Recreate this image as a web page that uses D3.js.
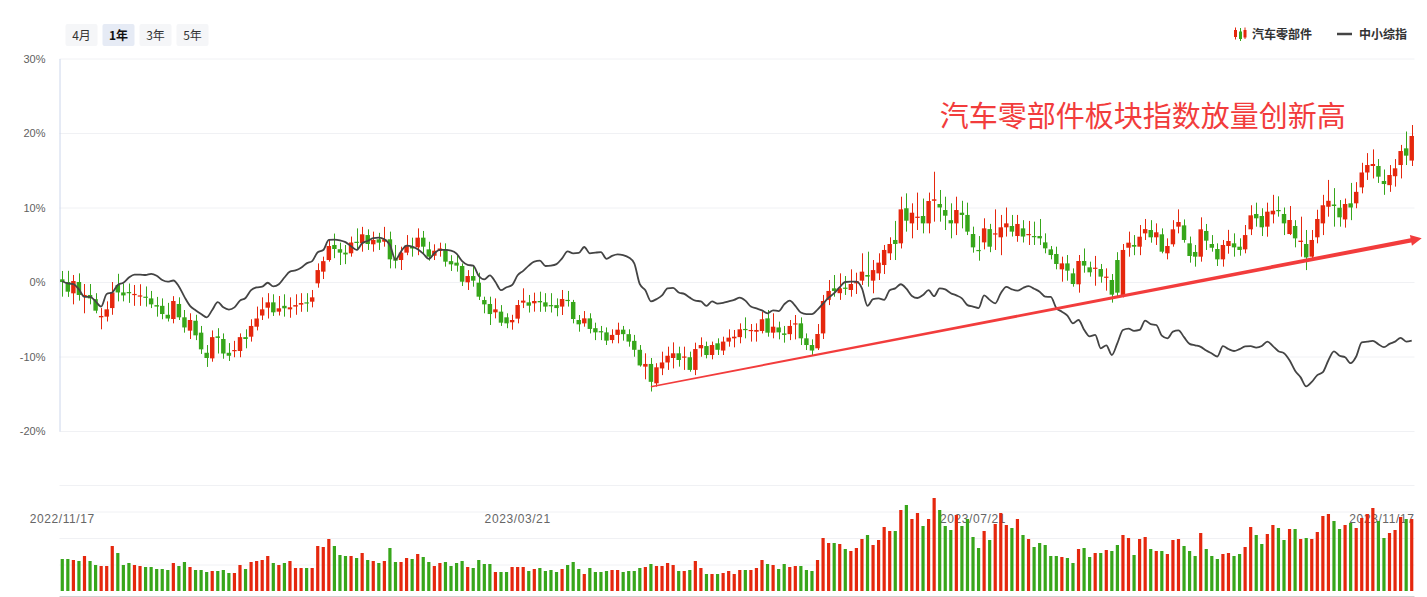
<!DOCTYPE html>
<html>
<head>
<meta charset="utf-8">
<script src="https://cdn.jsdelivr.net/npm/d3@7.9.0/dist/d3.min.js"></script>
<style>
  body { margin: 0; background: #fff; }
  svg { display: block; font-family: "Liberation Sans", Arial, "Noto Sans CJK SC", sans-serif; }
</style>
</head>
<body>
<svg id="chart" width="1427" height="597"></svg>
<script>
// range buttons + legend
const rangeButtons = ['4月', '1年', '3年', '5年'];
const activeRange = '1年';
const seriesNames = ['汽车零部件', '中小综指'];

// axis ticks (percent) and date labels (by trading-day index)
const yTicks = [30, 20, 10, 0, -10, -20];
const volTicks = [26.5, 53, 79.5, 106];
const dateTickIdx = [0, 82, 164, 243];
const dateTickLabels = ['2022/11/17', '2023/03/21', '2023/07/21', '2023/11/17'];

// 汽车零部件 daily candles, % change vs. first day: [open, close, high, low]
const kline = [
  [0.36,0.00,1.48,-1.97],[0.00,-1.30,1.50,-2.00],[-1.52,0.13,0.94,-3.00],[0.00,-1.74,1.16,-2.50],[-1.79,-1.74,-0.27,-4.20],
  [-1.74,-2.20,-0.27,-3.00],[-2.30,-3.85,-1.50,-4.20],[-4.74,-4.56,-3.50,-6.35],[-4.65,-3.67,-2.60,-5.30],[-3.50,-1.40,0.00,-4.40],
  [-0.40,-1.40,1.10,-2.60],[-1.40,-1.80,-0.20,-2.60],[-1.35,-1.50,-0.20,-2.80],[-1.70,-1.60,-0.40,-3.20],[-1.90,-1.80,-0.30,-3.20],
  [-1.97,-2.10,-0.60,-3.30],[-2.20,-3.00,-1.20,-3.50],[-3.10,-3.30,-2.00,-4.65],[-3.20,-4.30,-2.20,-5.00],[-4.40,-4.90,-2.80,-5.30],
  [-4.97,-2.55,-1.90,-5.55],[-2.95,-4.74,-2.06,-5.10],[-4.74,-6.10,-3.76,-6.80],[-6.53,-5.10,-4.20,-7.65],[-5.20,-7.16,-4.40,-7.80],
  [-6.80,-9.04,-5.90,-9.66],[-9.50,-10.20,-8.46,-11.40],[-10.25,-7.40,-6.50,-10.70],[-7.30,-7.50,-6.20,-9.60],[-7.65,-9.60,-6.90,-10.30],
  [-9.50,-9.90,-8.20,-10.60],[-9.26,-9.13,-7.90,-10.10],[-9.26,-7.40,-6.90,-10.10],[-7.40,-7.65,-6.35,-8.90],[-7.34,-5.90,-5.00,-8.00],
  [-6.00,-4.90,-3.30,-6.50],[-4.50,-3.67,-2.06,-5.10],[-3.45,-2.73,-1.50,-4.90],[-2.73,-4.07,-1.65,-4.56],[-3.98,-3.53,-1.88,-4.50],
  [-3.20,-3.53,-1.65,-4.65],[-3.67,-3.40,-2.06,-4.80],[-3.30,-3.10,-1.65,-4.40],[-3.04,-2.82,-1.50,-4.00],[-2.73,-2.82,-1.50,-4.00],
  [-2.64,-2.06,-1.07,-3.40],[-0.18,1.60,2.50,-0.76],[1.39,2.80,3.40,0.40],[2.95,4.83,5.70,2.73],[4.97,4.43,6.50,3.20],
  [4.40,3.94,5.28,2.28],[3.94,3.70,4.97,2.40],[3.85,5.30,6.10,3.40],[5.40,5.28,7.20,4.30],[5.20,6.40,7.40,4.07],
  [6.30,5.10,7.07,4.30],[5.06,5.64,6.76,4.07],[5.73,5.28,6.60,4.30],[5.41,5.73,7.40,4.74],[5.73,3.04,6.76,1.83],
  [3.18,2.86,4.97,1.83],[2.95,3.94,4.74,1.61],[3.94,4.88,6.30,3.60],[4.74,4.50,5.95,3.40],[4.65,5.95,7.20,3.60],
  [5.95,4.74,6.85,3.85],[4.38,3.40,5.40,2.86],[3.53,4.20,5.06,2.95],[4.16,4.50,5.28,3.40],[4.38,2.73,5.19,2.06],
  [2.80,2.37,3.60,1.48],[2.60,2.20,3.60,1.39],[2.15,0.04,2.50,-0.54],[-0.04,0.80,1.60,-1.07],[0.80,0.18,2.15,-0.63],
  [-0.09,-1.97,1.25,-2.42],[-2.42,-3.00,-1.97,-4.20],[-2.95,-4.30,-1.97,-5.77],[-4.07,-3.67,-2.20,-4.88],[-3.98,-5.46,-3.10,-5.90],
  [-4.74,-5.55,-4.20,-6.20],[-5.41,-5.10,-4.40,-6.40],[-4.92,-3.09,-2.42,-5.55],[-2.77,-2.50,-0.85,-3.50],[-2.73,-3.18,-1.74,-4.10],
  [-2.86,-2.55,-1.43,-3.98],[-2.55,-2.73,-1.30,-4.00],[-2.73,-3.30,-1.50,-4.00],[-3.10,-3.20,-1.50,-4.10],[-3.10,-3.50,-2.20,-4.60],
  [-3.30,-2.28,-1.07,-4.43],[-2.40,-2.55,-1.20,-3.30],[-2.68,-4.97,-2.40,-5.55],[-5.10,-5.68,-4.43,-6.67],[-5.55,-4.88,-3.90,-6.00],
  [-4.88,-6.30,-4.20,-6.90],[-6.20,-6.76,-5.46,-7.80],[-6.60,-6.76,-5.90,-7.80],[-6.76,-7.87,-6.10,-8.46],[-7.79,-7.10,-6.35,-8.23],
  [-7.10,-6.40,-5.46,-8.23],[-6.40,-7.00,-5.90,-7.87],[-7.00,-8.00,-6.35,-8.68],[-7.90,-9.10,-7.10,-10.03],[-9.10,-11.20,-8.46,-11.36],
  [-11.36,-11.00,-9.57,-13.06],[-11.00,-13.40,-10.20,-14.70],[-13.60,-11.45,-10.90,-14.05],[-11.60,-10.80,-9.35,-12.50],[-10.80,-9.90,-8.68,-11.80],
  [-10.20,-9.57,-8.10,-11.60],[-9.57,-10.47,-8.68,-11.36],[-10.16,-10.00,-8.68,-11.80],[-10.10,-11.80,-9.35,-12.04],[-11.80,-9.00,-8.14,-12.50],
  [-8.90,-8.46,-7.43,-10.03],[-8.60,-9.80,-8.00,-10.25],[-9.80,-8.46,-8.00,-10.38],[-8.23,-9.10,-7.56,-9.80],[-9.20,-8.00,-7.34,-9.80],
  [-8.00,-7.47,-6.35,-8.68],[-7.56,-7.34,-6.44,-8.77],[-7.40,-6.35,-5.55,-8.23],[-6.30,-6.44,-4.75,-7.56],[-6.58,-6.44,-5.64,-8.00],
  [-6.67,-6.44,-5.55,-8.00],[-6.58,-5.00,-4.00,-6.90],[-4.88,-6.80,-3.76,-7.34],[-6.80,-6.00,-4.20,-7.56],[-6.10,-6.76,-5.32,-7.70],
  [-6.90,-7.10,-5.90,-8.14],[-7.00,-5.90,-5.10,-7.80],[-5.68,-5.55,-4.43,-7.70],[-5.55,-7.56,-4.75,-8.46],[-7.56,-8.46,-6.90,-9.13],
  [-8.46,-9.20,-7.70,-9.80],[-8.90,-6.98,-5.64,-9.13],[-6.90,-2.55,-1.74,-7.65],[-2.40,-1.20,0.27,-3.10],[-0.85,-1.20,0.94,-1.97],
  [-1.50,-0.85,1.16,-2.40],[-0.76,-0.85,0.80,-1.74],[-1.07,-0.27,1.70,-1.97],[-0.18,0.13,1.25,-1.61],[0.18,1.39,3.85,-0.40],
  [0.94,0.72,4.07,-0.63],[0.18,1.60,2.95,-1.52],[1.16,2.60,3.85,0.27],[2.28,4.30,4.97,1.07],[3.85,5.10,6.00,2.95],
  [5.64,5.10,8.20,2.95],[5.19,9.75,11.45,4.50],[9.90,8.23,11.90,6.76],[7.87,9.30,10.56,5.86],[8.60,8.77,12.00,6.98],
  [8.86,7.87,11.20,6.53],[7.87,10.87,12.00,6.53],[10.90,11.10,14.80,8.10],[10.47,10.00,12.35,8.10],[9.66,8.90,11.45,6.98],
  [8.30,7.87,10.56,5.86],[7.87,9.66,11.45,6.30],[9.30,9.00,10.90,7.20],[9.00,6.76,10.65,6.30],[6.44,4.65,7.43,3.94],
  [4.30,4.20,6.17,2.86],[5.32,7.20,8.55,4.38],[7.10,4.74,7.80,4.00],[6.44,6.53,9.75,4.30],[6.00,7.34,9.00,3.60],
  [7.34,7.87,10.00,6.10],[7.52,6.76,9.00,6.10],[6.17,7.79,9.00,5.40],[7.20,6.10,8.30,5.30],[6.30,6.44,8.20,4.97],
  [6.17,6.08,8.10,4.97],[6.17,5.86,8.46,4.97],[5.32,4.52,6.53,3.85],[4.38,3.62,4.83,3.04],[3.76,2.42,4.74,1.70],
  [1.70,2.50,3.40,0.04],[2.50,1.52,3.62,0.18],[1.16,-0.27,1.83,-0.63],[-0.31,2.82,3.62,-1.43],[2.82,2.20,4.50,1.25],
  [1.97,1.30,2.73,0.72],[1.79,1.92,3.50,-0.50],[1.74,0.72,2.42,-0.09],[0.58,0.72,1.83,-1.16],[0.27,-1.70,1.07,-2.77],
  [2.95,-1.43,4.00,-2.00],[-1.83,4.30,5.10,-2.06],[4.60,5.28,6.76,3.40],[4.97,4.74,6.30,3.60],[4.74,6.08,7.65,3.60],
  [6.53,7.10,8.46,5.64],[6.98,6.00,8.30,5.28],[6.00,6.67,7.87,4.97],[6.40,4.07,7.20,3.85],[3.85,4.83,5.86,3.04],
  [5.06,7.07,8.30,4.74],[7.43,8.05,9.75,6.53],[7.60,5.64,8.40,5.28],[5.19,3.49,6.10,2.60],[4.03,3.40,4.97,2.06],
  [3.40,7.07,8.68,2.73],[6.85,5.55,7.79,4.30],[5.10,4.60,6.30,4.07],[4.43,3.04,5.19,2.15],[3.04,4.97,5.64,2.06],
  [4.83,5.50,7.00,3.80],[5.19,4.65,6.53,3.40],[4.74,4.30,5.86,3.53],[4.38,6.30,7.65,3.85],[7.07,8.95,10.30,6.30],
  [9.13,8.55,10.65,7.43],[8.86,7.34,9.90,6.17],[7.43,9.44,10.65,6.08],[9.08,9.57,11.70,7.87],[9.66,9.57,11.50,8.77],
  [9.13,7.87,10.00,6.30],[6.44,8.32,10.20,6.30],[7.52,5.86,8.30,4.65],[5.37,5.55,8.77,3.40],[5.10,3.30,6.98,1.60],
  [3.40,5.64,6.98,2.95],[6.00,8.46,9.70,5.19],[7.87,10.30,11.70,6.30],[10.10,10.90,13.70,8.77],[10.40,10.20,12.60,7.43],
  [9.97,8.68,11.00,7.43],[8.40,10.47,11.20,7.30],[10.56,10.00,13.30,8.30],[10.56,12.10,13.40,9.90],[12.70,14.70,16.00,11.90],
  [14.70,15.70,17.30,13.70],[15.57,15.84,17.80,13.90],[15.57,14.14,16.50,13.30],[13.56,13.15,15.10,11.70],[13.00,14.36,15.70,12.10],
  [14.20,15.26,16.50,12.80],[15.70,17.58,18.40,13.90],[17.94,16.96,20.20,15.70],[16.30,19.60,21.07,15.57]
];

// 中小综指, % change vs. first day
const indexLine = [
  0.1,-0.2,-0.27,-1.0,-2.0,-2.0,-2.6,-3.3,-1.6,-1.4,
  -0.4,-0.1,0.6,1.0,1.0,0.94,1.1,0.85,0.27,0.05,
  0.2,-0.6,-2.0,-3.2,-3.8,-4.3,-4.74,-3.76,-2.7,-3.4,
  -3.7,-3.4,-2.5,-2.15,-1.1,-0.72,-0.63,-0.1,-0.6,-0.3,
  0.6,1.4,1.55,1.9,2.5,2.8,4.0,4.3,5.65,5.7,
  5.6,5.35,4.8,4.3,5.2,5.5,5.88,5.95,5.73,4.97,
  3.0,4.1,4.88,4.75,4.4,3.8,3.1,3.85,4.3,4.3,
  4.2,3.8,2.8,2.3,2.2,0.8,0.35,0.9,0.0,-1.1,
  -0.7,-0.4,0.9,1.5,2.2,2.75,2.86,2.15,2.2,2.4,
  3.18,4.1,3.85,3.9,4.7,3.85,3.94,4.0,3.1,3.5,
  3.7,3.6,3.3,2.5,-0.3,-1.1,-2.6,-2.3,-1.8,-0.85,
  -0.8,-1.4,-1.6,-2.1,-2.5,-2.6,-3.2,-2.6,-2.9,-2.8,
  -2.6,-2.4,-2.1,-2.5,-3.3,-3.55,-3.8,-4.2,-3.8,-3.9,
  -3.0,-2.5,-3.2,-4.1,-4.3,-4.3,-3.7,-2.9,-2.1,-1.5,
  -0.7,0.0,0.04,0.04,-0.85,-3.2,-2.3,-2.2,-2.4,-1.1,
  -0.85,-0.3,-0.9,-1.88,-2.15,-1.74,-1.1,-1.9,-0.85,-1.0,
  -1.5,-1.8,-2.2,-3.1,-3.3,-3.5,-1.8,-2.4,-2.86,-1.5,
  -0.65,-0.98,-1.16,-0.8,-0.55,-0.9,-1.3,-1.97,-2.0,-3.5,
  -3.98,-4.5,-5.55,-5.1,-6.4,-7.3,-7.1,-8.9,-8.5,-9.8,
  -8.2,-6.44,-6.25,-6.55,-6.44,-5.19,-5.65,-5.77,-7.2,-7.56,
  -6.67,-6.5,-7.4,-8.3,-8.5,-8.7,-9.2,-9.6,-10.0,-8.6,
  -9.0,-9.26,-9.0,-8.65,-8.6,-8.8,-8.6,-8.0,-8.6,-9.3,
  -9.55,-10.5,-11.9,-12.8,-14.0,-13.4,-12.5,-12.1,-10.5,-9.3,
  -9.9,-10.1,-10.9,-10.0,-8.1,-8.0,-7.9,-8.35,-8.75,-8.3,
  -8.0,-7.5,-8.0,-7.87
];

// 汽车零部件 daily turnover (relative units)
const volume = [
  32,32,31,30,35,30,26,25,25,45, 38,26,28,26,25,24,24,22,22,21,
  28,25,29,24,21,21,19,20,20,21, 18,18,26,22,29,30,31,35,28,26,
  28,30,23,23,23,23,45,44,52,45, 36,35,35,33,38,31,30,28,30,43,
  29,29,33,32,37,34,29,25,28,29, 25,28,30,24,23,
  31,27,27,19,19,19,24,24,24,
  20,22,23,20,21,19,22,26,29,22, 17,23,19,19,20,21,21,19,20,20,
  23,24,27,25,25,28,26,20,20,21, 30,23,17,17,17,18,20,17,21,21,
  21,23,31,27,26,22,27,24,25,25, 21,20,31,53,48,48,47,42,40,43,
  52,56,46,51,64,60,60,81,86,72, 78,65,72,93,81,65,
  61,76,65,72,54,43,60,51,67,78, 66,63,72,56,52,44,48,46,35,35,
  34,33,28,42,43,34,38,38,41,40, 46,56,53,36,52,54,42,40,40,37,
  51,52,45,40,35,58,42,35,32,37, 38,35,37,44,64,56,47,57,66,63,
  51,62,62,52,53,52,59,75,77,70, 62,66,68,63,73,77,83,70,53,58,
  61,74,72,72
];

// hand-drawn annotation, in data coordinates [day index, %]
const trendFrom = [106, -14.05];
const trendTo = [244.8, 5.87];
const noteAt = [158, 20.8];
const noteText = '汽车零部件板块指数放量创新高';

const UP = '#e5270d', DOWN = '#37a61b', LINE = '#444', NOTE = '#f23c3c';

const N = kline.length;
const svg = d3.select('#chart');
const plotLeft = 59.5, plotRight = 1414.5;

const x = d3.scaleBand().domain(d3.range(N)).range([plotLeft, plotRight])
  .paddingInner(0.2).paddingOuter(0.1);
const bw = x.bandwidth();
const xc = i => x(i) + bw / 2;
const xIdx = d3.scaleLinear().domain([0, N - 1]).range([xc(0), xc(N - 1)]);
const y = d3.scaleLinear().domain([-20, 30]).range([431, 58.5]);
const yVol = d3.scaleLinear().domain([0, 106]).range([591, 485]);

// main grid + y labels
const yAxis = svg.append('g')
  .attr('transform', `translate(${plotLeft},0)`)
  .call(d3.axisLeft(y).tickValues(yTicks).tickFormat(d => d + '%')
    .tickSize(-(plotRight - plotLeft)).tickSizeOuter(0).tickPadding(14));
yAxis.attr('font-family', null).attr('font-size', null);
yAxis.select('.domain').attr('stroke', '#ccd6eb');
yAxis.selectAll('.tick line').attr('stroke', '#f0f1f4');
yAxis.selectAll('.tick text').attr('fill', '#5f5f5f').attr('font-size', 11);
yAxis.select('.domain').raise();

// volume grid
const vAxis = svg.append('g')
  .attr('transform', `translate(${plotLeft},0)`)
  .call(d3.axisLeft(yVol).tickValues(volTicks).tickFormat('')
    .tickSize(-(plotRight - plotLeft)));
vAxis.select('.domain').remove();
vAxis.selectAll('.tick line').attr('stroke', '#f0f1f4');

svg.append('line')
  .attr('x1', plotLeft).attr('x2', plotRight)
  .attr('y1', 596.5).attr('y2', 596.5)
  .attr('stroke', '#d0d0d0');

// date labels (sit under the volume bars)
svg.append('g').selectAll('text')
  .data(dateTickIdx)
  .join('text')
  .attr('x', (d, i) => i === dateTickIdx.length - 1 ? plotRight : xc(d))
  .attr('y', 523)
  .attr('text-anchor', (d, i) => i === dateTickIdx.length - 1 ? 'end' : 'middle')
  .attr('font-size', 12)
  .attr('letter-spacing', 0.6)
  .attr('fill', '#666')
  .text((d, i) => dateTickLabels[i]);

const isUp = i => kline[i][1] >= kline[i][0];

// volume bars
const vw = bw * 0.72;
svg.append('g').selectAll('rect')
  .data(volume)
  .join('rect')
  .attr('x', (d, i) => xc(i) - vw / 2)
  .attr('y', d => yVol(d))
  .attr('width', vw)
  .attr('height', d => yVol(0) - yVol(d))
  .attr('fill', (d, i) => isUp(i) ? UP : DOWN);

// candles
const candle = svg.append('g').selectAll('g')
  .data(kline)
  .join('g')
  .attr('fill', (d, i) => isUp(i) ? UP : DOWN)
  .attr('stroke', (d, i) => isUp(i) ? UP : DOWN);

candle.append('line')
  .attr('x1', (d, i) => Math.round(xc(i)) + 0.5)
  .attr('x2', (d, i) => Math.round(xc(i)) + 0.5)
  .attr('y1', d => y(d[2]))
  .attr('y2', d => y(d[3]))
  .attr('stroke-width', 1);

candle.append('rect')
  .attr('x', (d, i) => xc(i) - bw / 2)
  .attr('y', d => y(Math.max(d[0], d[1])))
  .attr('width', bw)
  .attr('height', d => Math.max(1.2, Math.abs(y(d[0]) - y(d[1]))))
  .attr('stroke', 'none');

// 中小综指 line
svg.append('path')
  .datum(indexLine)
  .attr('fill', 'none')
  .attr('stroke', LINE)
  .attr('stroke-width', 1.8)
  .attr('d', d3.line().x((d, i) => xc(i)).y(d => y(d)).curve(d3.curveMonotoneX));

// tapered arrow
{
  const x0 = xIdx(trendFrom[0]), y0 = y(trendFrom[1]);
  const x1 = xIdx(trendTo[0]), y1 = y(trendTo[1]);
  const len = Math.hypot(x1 - x0, y1 - y0);
  const ux = (x1 - x0) / len, uy = (y1 - y0) / len;
  const nx = -uy, ny = ux;
  const headLen = 11, headHalf = 5.5;
  const bx = x1 - ux * headLen, by = y1 - uy * headLen;
  const w0 = 0.8, w1 = 2.1;
  const pts = [
    [x0 + nx * w0, y0 + ny * w0],
    [bx + nx * w1, by + ny * w1],
    [bx + nx * headHalf, by + ny * headHalf],
    [x1, y1],
    [bx - nx * headHalf, by - ny * headHalf],
    [bx - nx * w1, by - ny * w1],
    [x0 - nx * w0, y0 - ny * w0]
  ];
  svg.append('path')
    .attr('d', d3.line()(pts) + 'Z')
    .attr('fill', NOTE);
}

svg.append('text')
  .attr('x', xIdx(noteAt[0]))
  .attr('y', y(noteAt[1]))
  .attr('font-family', '"Noto Sans CJK SC", sans-serif')
  .attr('font-size', 29)
  .attr('fill', NOTE)
  .text(noteText);

// range buttons
const btn = svg.append('g').selectAll('g')
  .data(rangeButtons)
  .join('g')
  .attr('transform', (d, i) => `translate(${65.5 + i * 37},24)`);
btn.append('rect')
  .attr('width', 32).attr('height', 22).attr('rx', 2)
  .attr('fill', d => d === activeRange ? '#e6ebf5' : '#f5f6f8');
btn.append('text')
  .attr('x', 16).attr('y', 15.5)
  .attr('text-anchor', 'middle')
  .attr('font-family', '"Noto Sans CJK SC", sans-serif')
  .attr('font-size', 12)
  .attr('font-weight', d => d === activeRange ? 'bold' : 'normal')
  .attr('fill', d => d === activeRange ? '#111' : '#333')
  .text(d => d);

// legend
const legend = svg.append('g');
[[1235.5, UP, 30, 37, 27.5, 39.5], [1240.5, DOWN, 31.5, 39, 28, 41], [1245, UP, 30, 37.5, 27.5, 39]]
  .forEach(([cx, col, bt, bb, wt, wb]) => {
    legend.append('line').attr('x1', cx).attr('x2', cx).attr('y1', wt).attr('y2', wb)
      .attr('stroke', col).attr('stroke-width', 1);
    legend.append('rect').attr('x', cx - 1.5).attr('y', bt).attr('width', 3).attr('height', bb - bt)
      .attr('fill', col);
  });
legend.append('text')
  .attr('x', 1252).attr('y', 38.5)
  .attr('font-family', '"Noto Sans CJK SC", sans-serif')
  .attr('font-size', 12).attr('font-weight', 'bold').attr('fill', '#333')
  .text(seriesNames[0]);
legend.append('line')
  .attr('x1', 1337).attr('x2', 1352).attr('y1', 34).attr('y2', 34)
  .attr('stroke', LINE).attr('stroke-width', 2.5);
legend.append('text')
  .attr('x', 1359).attr('y', 38.5)
  .attr('font-family', '"Noto Sans CJK SC", sans-serif')
  .attr('font-size', 12).attr('font-weight', 'bold').attr('fill', '#333')
  .text(seriesNames[1]);
</script>
</body>
</html>
